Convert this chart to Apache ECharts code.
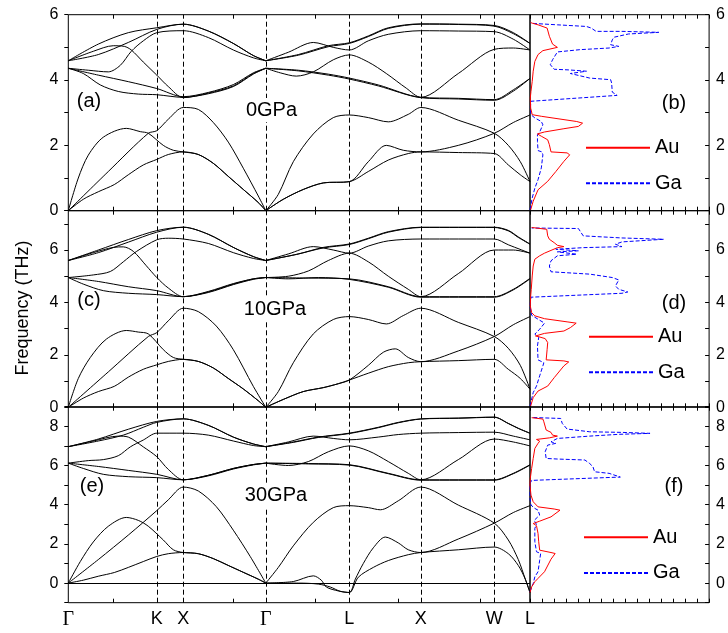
<!DOCTYPE html>
<html>
<head>
<meta charset="utf-8">
<script src="https://cdn.jsdelivr.net/npm/echarts/dist/echarts.min.js"></script>
<style>
  html, body { margin: 0; padding: 0; background: #fff; }
  #chart { width: 728px; height: 633px; }
</style>
</head>
<body>
<div id="chart"></div>
<script>
// high-symmetry points along the k path (path length units)
const kPoints = [0, 88.5, 115, 197.5, 281, 352.5, 426, 461.7]
const kLabels = ['Γ', 'K', 'X', 'Γ', 'L', 'X', 'W', 'L']
const kMinorTicks = [45, 165, 247, 330, 412]
const GAMMA = 197.5

const freqMin = [0, 0, -1]
const freqMax = [6, 7.5, 9]
const pressures = ['0GPa', '10GPa', '30GPa']

// 0 GPa phonon branches, [k, THz]
const bands0 = [
  [[0,0],[15,0.35],[30,0.58],[46,0.8],[60,1.1],[75,1.4],[88.5,1.57],[100,1.72],[115,1.8],[130,1.72],[145,1.45],[160,1.05],[175,0.65],[190,0.25],[197.5,0],[215,0.35],[235,0.65],[255,0.85],[281,0.89],[300,1.2],[320,1.55],[340,1.75],[352.5,1.8],[390,1.78],[426,1.75],[440,1.4],[452,1.1],[461.7,0.89]],
  [[0,0],[10,1.0],[20,1.7],[35,2.25],[58,2.52],[72,2.42],[80,2.37],[95,2.0],[105,1.85],[115,1.8],[130,1.72],[145,1.45],[160,1.05],[175,0.65],[190,0.25],[197.5,0],[215,0.35],[235,0.65],[255,0.85],[281,0.89],[300,1.5],[318,2.0],[335,1.85],[352.5,1.8],[390,2.0],[426,2.37],[445,2.7],[461.7,2.93]],
  [[0,0],[40,1.2],[80,2.37],[88.5,2.45],[100,2.8],[115,3.16],[130,3.1],[145,2.7],[160,2.1],[175,1.3],[190,0.45],[197.5,0],[210,0.5],[225,1.5],[245,2.35],[265,2.85],[281,2.93],[300,2.85],[320,2.72],[340,2.95],[352.5,3.16],[390,2.77],[426,2.37],[440,2.0],[452,1.5],[461.7,0.89]],
  [[0,4.59],[30,5.1],[60,5.45],[88.5,5.6],[115,5.71],[140,5.5],[165,5.12],[185,4.75],[197.5,4.59],[230,4.78],[260,5.05],[281,5.14],[300,5.35],[320,5.6],[352.5,5.72],[390,5.71],[426,5.67],[445,5.45],[461.7,5.12]],
  [[0,4.59],[30,4.78],[60,5.15],[88.5,5.55],[115,5.71],[140,5.5],[165,5.12],[185,4.75],[197.5,4.59],[220,4.85],[245,5.15],[265,5.0],[281,4.92],[300,5.2],[320,5.4],[352.5,5.51],[390,5.5],[426,5.48],[445,5.25],[461.7,4.92]],
  [[0,4.36],[20,4.3],[40,4.25],[52,4.45],[63,4.88],[75,5.2],[88.5,5.45],[115,5.51],[140,5.3],[165,4.92],[185,4.68],[197.5,4.59],[230,4.76],[260,5.02],[281,5.12],[300,5.33],[320,5.58],[352.5,5.71],[390,5.7],[426,5.65],[445,5.42],[461.7,5.12]],
  [[0,4.59],[25,4.88],[45,5.05],[56,5.03],[63,4.92],[75,4.55],[88.5,4.15],[100,3.8],[115,3.46],[140,3.6],[165,3.82],[185,4.2],[197.5,4.36],[212,4.22],[228,4.12],[245,4.25],[265,4.62],[281,4.77],[300,4.55],[318,4.2],[338,3.75],[352.5,3.47],[390,4.2],[426,4.94],[445,4.98],[461.7,4.92]],
  [[0,4.36],[30,4.15],[60,3.95],[88.5,3.74],[115,3.49],[140,3.62],[165,3.86],[185,4.22],[197.5,4.36],[230,4.3],[260,4.18],[281,4.06],[310,3.85],[352.5,3.47],[390,3.44],[426,3.4],[445,3.7],[461.7,4.05]],
  [[0,4.36],[15,4.2],[32,3.85],[50,3.65],[70,3.57],[88.5,3.55],[115,3.47],[140,3.58],[165,3.8],[185,4.18],[197.5,4.36],[230,4.28],[260,4.15],[281,4.03],[310,3.82],[352.5,3.46],[390,3.42],[426,3.38],[445,3.66],[461.7,4.05]]
]

// 10 GPa
const bands10 = [
  [[0,0],[15,0.35],[30,0.6],[46,0.8],[60,1.15],[75,1.45],[88.5,1.62],[100,1.75],[115,1.83],[130,1.75],[145,1.5],[160,1.1],[175,0.7],[190,0.25],[197.5,0],[215,0.3],[235,0.6],[255,0.75],[270,0.9],[281,1.04],[300,1.3],[320,1.55],[340,1.7],[352.5,1.74],[390,1.78],[426,1.83],[440,1.45],[452,1.1],[461.7,0.69]],
  [[0,0],[10,1.1],[22,1.9],[38,2.6],[58,2.93],[70,2.87],[80,2.8],[95,2.2],[105,1.9],[115,1.83],[130,1.75],[145,1.5],[160,1.1],[175,0.7],[190,0.25],[197.5,0],[215,0.3],[235,0.6],[255,0.75],[270,0.9],[281,1.04],[300,1.6],[315,2.1],[327,2.23],[340,1.9],[352.5,1.74],[390,2.15],[426,2.7],[445,3.15],[461.7,3.46]],
  [[0,0],[40,1.35],[80,2.7],[88.5,2.85],[100,3.3],[115,3.78],[130,3.65],[148,3.1],[165,2.2],[185,0.8],[197.5,0],[210,0.6],[225,1.7],[245,2.8],[265,3.35],[281,3.46],[300,3.35],[318,3.18],[335,3.5],[352.5,3.78],[390,3.24],[426,2.7],[440,2.25],[452,1.6],[461.7,0.69]],
  [[0,5.6],[30,6.0],[60,6.4],[88.5,6.74],[115,6.87],[140,6.6],[165,6.1],[185,5.75],[197.5,5.6],[230,5.85],[255,6.1],[281,6.23],[300,6.45],[320,6.7],[352.5,6.87],[390,6.87],[426,6.87],[440,6.75],[450,6.5],[461.7,6.23]],
  [[0,5.6],[30,5.9],[60,6.3],[88.5,6.68],[115,6.87],[140,6.6],[165,6.1],[185,5.75],[197.5,5.6],[228,5.83],[255,6.08],[281,6.21],[300,6.43],[320,6.68],[352.5,6.86],[390,6.86],[426,6.86],[440,6.73],[450,6.48],[461.7,6.22]],
  [[0,4.95],[25,5.05],[42,5.18],[55,5.55],[68,5.94],[88.5,6.39],[100,6.45],[115,6.42],[140,6.25],[165,5.9],[185,5.68],[197.5,5.6],[220,5.85],[245,6.13],[265,6.0],[281,5.88],[300,6.15],[320,6.35],[352.5,6.42],[390,6.42],[426,6.42],[440,6.2],[461.7,5.88]],
  [[0,5.6],[25,5.9],[45,6.1],[55,6.12],[65,5.95],[78,5.4],[88.5,4.95],[100,4.55],[115,4.22],[140,4.4],[165,4.7],[185,4.9],[197.5,4.95],[220,5.0],[240,5.2],[260,5.6],[281,5.88],[300,5.55],[320,5.0],[340,4.5],[352.5,4.22],[390,5.1],[426,6.0],[445,6.0],[461.7,5.88]],
  [[0,4.95],[30,4.8],[60,4.6],[88.5,4.45],[115,4.22],[140,4.42],[165,4.72],[185,4.9],[197.5,4.95],[240,4.93],[281,4.9],[320,4.6],[352.5,4.22],[390,4.22],[426,4.22],[445,4.5],[461.7,4.92]],
  [[0,4.95],[15,4.7],[35,4.45],[60,4.35],[88.5,4.3],[115,4.22],[140,4.38],[165,4.68],[185,4.88],[197.5,4.95],[220,4.9],[250,4.95],[281,4.88],[320,4.58],[352.5,4.2],[390,4.2],[426,4.2],[445,4.48],[461.7,4.9]]
]

// 30 GPa
const bands30 = [
  [[0,0],[15,0.15],[30,0.35],[46,0.54],[60,0.8],[75,1.1],[88.5,1.36],[100,1.5],[115,1.56],[130,1.5],[145,1.25],[160,0.9],[175,0.55],[190,0.2],[197.5,0],[230,0],[250,-0.05],[262,-0.2],[272,-0.42],[281,-0.48],[290,0.3],[305,0.8],[320,1.15],[340,1.45],[352.5,1.56],[390,1.7],[426,1.84],[440,1.5],[450,0.9],[457,0.2],[461.7,-0.48]],
  [[0,0],[12,1.1],[25,2.1],[40,2.9],[58,3.35],[70,3.2],[80,2.9],[95,2.2],[105,1.7],[115,1.56],[130,1.5],[145,1.25],[160,0.9],[175,0.55],[190,0.2],[197.5,0],[225,0.08],[245,0.37],[253,0.15],[258,-0.2],[270,-0.4],[281,-0.48],[287,0.2],[295,1.0],[305,1.8],[317,2.35],[330,2.05],[340,1.7],[352.5,1.56],[390,2.25],[426,3.06],[445,3.6],[461.7,3.95]],
  [[0,0],[30,1.2],[60,2.45],[88.5,3.7],[100,4.25],[115,4.9],[130,4.7],[148,3.9],[165,2.7],[182,1.35],[197.5,0],[210,0.8],[225,1.9],[245,3.1],[265,3.85],[281,3.95],[300,3.85],[312,3.74],[330,4.2],[352.5,4.9],[390,3.98],[426,3.06],[440,2.2],[450,1.2],[457,0.2],[461.7,-0.48]],
  [[0,6.96],[30,7.35],[60,7.85],[88.5,8.25],[115,8.38],[140,8.05],[165,7.45],[185,7.1],[197.5,6.96],[225,7.2],[250,7.45],[281,7.65],[310,7.95],[330,8.2],[352.5,8.38],[390,8.42],[426,8.47],[440,8.15],[450,7.9],[461.7,7.65]],
  [[0,6.96],[30,7.25],[55,7.55],[75,7.95],[88.5,8.2],[115,8.38],[140,8.05],[165,7.45],[185,7.1],[197.5,6.96],[220,7.2],[245,7.5],[265,7.38],[281,7.31],[310,7.45],[330,7.58],[352.5,7.65],[390,7.68],[426,7.7],[445,7.5],[461.7,7.31]],
  [[0,6.12],[20,6.25],[35,6.3],[50,6.5],[62,6.95],[75,7.3],[88.5,7.65],[115,7.65],[140,7.55],[165,7.25],[185,7.02],[197.5,6.96],[225,7.18],[250,7.43],[281,7.63],[310,7.93],[330,8.18],[352.5,8.37],[390,8.41],[426,8.46],[440,8.14],[450,7.89],[461.7,7.64]],
  [[0,6.96],[25,7.25],[50,7.5],[60,7.45],[75,6.95],[88.5,6.45],[100,5.8],[115,5.27],[140,5.5],[165,5.85],[185,6.05],[197.5,6.12],[220,6.0],[240,6.2],[260,6.7],[281,7.0],[300,6.75],[320,6.2],[340,5.6],[352.5,5.27],[390,6.3],[426,7.35],[445,7.2],[461.7,7.0]],
  [[0,6.12],[30,5.95],[60,5.75],[88.5,5.55],[115,5.27],[140,5.5],[165,5.85],[185,6.05],[197.5,6.12],[240,6.1],[281,6.04],[320,5.6],[352.5,5.27],[390,5.27],[426,5.27],[445,5.6],[461.7,6.04]],
  [[0,6.12],[15,5.85],[35,5.55],[60,5.43],[88.5,5.38],[115,5.27],[140,5.47],[165,5.82],[185,6.03],[197.5,6.12],[240,6.08],[281,6.02],[320,5.58],[352.5,5.25],[390,5.25],[426,5.25],[445,5.58],[461.7,6.02]]
]

// projected phonon DOS, [DOS (arb.), THz]
const dosAu0 = [[0.7,0.03],[3.3,0.29],[8.3,0.64],[18.3,0.9],[26.7,1.2],[35,1.51],[41,1.71],[38.3,1.77],[21.7,1.8],[20,2.02],[18.3,2.17],[11.7,2.28],[7.7,2.35],[15,2.41],[35,2.51],[50,2.58],[54.3,2.68],[48.3,2.73],[11.7,2.89],[2.3,2.94],[0.7,3.14],[0.3,3.45],[1,3.65],[2.3,3.96],[3.3,4.27],[5,4.57],[8.3,4.78],[13.3,4.9],[11.7,4.94],[28.3,5.0],[23.3,5.1],[20,5.34],[17.7,5.59],[16.7,5.64],[8.3,5.69],[2.3,5.74],[0.7,5.76]]
const dosGa0 = [[0,0.03],[2.3,0.39],[5,0.69],[8.3,0.95],[11.7,1.31],[13.3,1.71],[12.3,1.8],[8.3,1.84],[7.7,2.12],[7.7,2.33],[10,2.41],[13.3,2.63],[11.7,2.73],[5,2.84],[1,2.94],[0.3,3.14],[1,3.35],[90,3.53],[85,3.63],[84.3,3.91],[83.3,4.01],[61.7,4.06],[41.7,4.2],[58.3,4.27],[40,4.31],[25,4.33],[21,4.47],[23.3,4.62],[28.3,4.86],[51.7,4.93],[81.7,4.98],[91.7,5.03],[83.3,5.08],[85,5.23],[86.7,5.31],[101.7,5.41],[133,5.46],[95,5.49],[68.3,5.49],[63.3,5.59],[58.3,5.64],[28.3,5.69],[5,5.73],[0.7,5.74]]
const dosAu10 = [[0.7,0.05],[3.3,0.37],[8.3,0.62],[18.3,0.81],[25,1.13],[35,1.58],[40,1.73],[35,1.77],[16.7,1.81],[17.7,2.21],[18.3,2.47],[15.7,2.62],[8.3,2.7],[5.7,2.72],[15,2.82],[35,2.91],[41.7,3.04],[47.7,3.21],[38.3,3.26],[15,3.38],[5,3.49],[1.7,3.61],[0.3,3.87],[0.7,4.25],[1.3,4.5],[2.3,5.01],[3.3,5.39],[5,5.65],[10,5.78],[15,5.88],[28.3,6.09],[35,6.13],[28.3,6.18],[25,6.28],[20,6.41],[18.3,6.54],[17.3,6.79],[16.7,6.84],[1.7,6.86]]
const dosGa10 = [[0,0.05],[3.3,0.56],[6.7,0.81],[10,1.2],[13.3,1.58],[14.3,1.7],[8.3,1.81],[7.7,2.34],[9,2.66],[5,2.79],[10,2.98],[15,3.21],[8.3,3.36],[1.7,3.51],[0,3.87],[1,4.2],[95,4.35],[101,4.4],[91.7,4.5],[88.3,4.63],[91.7,4.86],[85,4.95],[61.7,5.08],[21.7,5.17],[20,5.39],[21.7,5.59],[28.3,5.78],[48.3,5.84],[28.3,5.93],[50,5.97],[26.7,6.03],[55,6.09],[95,6.13],[88.3,6.22],[95,6.31],[138,6.41],[95,6.46],[55,6.54],[50,6.82],[1.7,6.84]]
const dosAu30 = [[0,-0.48],[1.7,-0.19],[5,0.07],[8.3,0.24],[15,0.58],[21.7,1.22],[26,1.51],[21.7,1.56],[10,1.68],[9,2.11],[8.3,2.53],[6.7,2.93],[3.3,3.04],[10,3.16],[21.7,3.38],[31,3.72],[25,3.78],[8.3,3.89],[3.3,4.15],[1,4.49],[0,5.0],[0.3,5.34],[1.7,5.85],[3.3,6.36],[5,6.87],[8.3,7.13],[10,7.24],[6.7,7.33],[20,7.41],[28.3,7.5],[23.3,7.55],[21.7,7.69],[16.7,7.81],[14.3,8.23],[13.3,8.37],[1.7,8.44]]
const dosGa30 = [[0,-0.44],[3.3,-0.02],[5,0.32],[8.3,0.58],[10,1.17],[11,1.51],[6.7,1.6],[5,2.11],[5,2.79],[6.7,2.99],[4.3,3.2],[10,3.47],[8.3,3.72],[5,3.81],[1,3.98],[0,4.32],[0,5.08],[1.7,5.24],[93.3,5.41],[81.7,5.6],[66.7,5.68],[65,5.94],[61.7,6.1],[56.7,6.28],[28.3,6.33],[16.7,6.36],[15.7,6.7],[18.3,7.04],[26.7,7.13],[21.7,7.21],[28.3,7.38],[61.7,7.5],[91.7,7.59],[124,7.64],[95,7.69],[61.7,7.72],[38.3,7.86],[33.3,8.15],[31.7,8.4],[1.7,8.45]]

const panels = [
  { bands: bands0, au: dosAu0, ga: dosGa0 },
  { bands: bands10, au: dosAu10, ga: dosGa10 },
  { bands: bands30, au: dosAu30, ga: dosGa30 },
]

const FONT = 'Liberation Sans'
const rowBox = [
  { top: 14.7, height: 196 },
  { top: 210.7, height: 196.6 },
  { top: 406.7, height: 196 },
]

// break the line at the zone centre so the acoustic V stays sharp
function splitAtGamma(pts) {
  const out = []
  pts.forEach((p, i) => {
    out.push(p)
    if (p[0] === GAMMA && i > 0 && i < pts.length - 1) {
      out.push([GAMMA, '-'])
      out.push(p)
    }
  })
  return out
}

function bandX(gridIndex, position, showLabels) {
  return {
    type: 'value', gridIndex, position, min: 0, max: 461.7,
    axisLine: { show: false, onZero: false },
    splitLine: { show: false },
    axisTick: { inside: true, length: 4, customValues: kMinorTicks, lineStyle: { color: '#000' } },
    axisLabel: showLabels ? {
      show: true,
      customValues: kPoints,
      margin: 7,
      formatter: (v) => {
        const lab = kLabels[kPoints.indexOf(v)] || ''
        return lab === 'Γ' ? '{g|Γ}' : '{s|' + lab + '}'
      },
      rich: {
        g: { fontFamily: 'Liberation Serif', fontSize: 20, color: '#000' },
        s: { fontFamily: FONT, fontSize: 18, color: '#000' },
      },
    } : { show: false },
  }
}

function dosX(gridIndex, position) {
  return {
    type: 'value', gridIndex, position, min: 0, max: 185, interval: 185 / 15,
    axisLine: { show: false, onZero: false },
    splitLine: { show: false },
    axisTick: { inside: true, length: 4, lineStyle: { color: '#000' } },
    axisLabel: { show: false },
  }
}

function freqY(gridIndex, position, r) {
  return {
    type: 'value', gridIndex, position, min: freqMin[r], max: freqMax[r], interval: 1,
    axisLine: { show: false, onZero: false },
    splitLine: { show: false },
    axisTick: { inside: position === 'right', length: 4, lineStyle: { color: '#000' } },
    axisLabel: {
      margin: position === 'left' ? 10 : 7,
      fontSize: 16, fontFamily: FONT, color: '#000',
      formatter: (v) => (Math.abs(v % 2) < 1e-9 ? String(v) : ''),
    },
  }
}

const grid = [], xAxis = [], yAxis = [], series = []

rowBox.forEach((box, r) => {
  grid.push({ left: 68.3, top: box.top, width: 461.7, height: box.height, show: true, borderColor: '#000', borderWidth: 1 })
  grid.push({ left: 530, top: box.top, width: 185, height: box.height, show: true, borderColor: '#000', borderWidth: 1 })
  xAxis.push(bandX(2 * r, 'bottom', r === 2), bandX(2 * r, 'top', false), dosX(2 * r + 1, 'bottom'), dosX(2 * r + 1, 'top'))
  yAxis.push(freqY(2 * r, 'left', r), freqY(2 * r + 1, 'right', r))

  const guides = kPoints.slice(1, 7).map(k => ({ xAxis: k }))
  if (r === 2) guides.push({ yAxis: 0, lineStyle: { type: 'solid', color: '#000', width: 1 } })

  panels[r].bands.forEach((b, i) => {
    series.push({
      type: 'line',
      xAxisIndex: 4 * r, yAxisIndex: 2 * r,
      data: splitAtGamma(b),
      smooth: 0.3,
      symbol: 'none',
      silent: true,
      lineStyle: { color: '#000', width: 1 },
      z: 3,
      markLine: i === 0 ? {
        symbol: 'none', silent: true, label: { show: false },
        lineStyle: { color: '#000', type: [5, 3], width: 1 },
        data: guides,
      } : undefined,
    })
  })

  series.push({
    name: 'Ga', type: 'line',
    xAxisIndex: 4 * r + 2, yAxisIndex: 2 * r + 1,
    data: panels[r].ga,
    symbol: 'none', silent: true,
    itemStyle: { color: '#0000ff' },
    lineStyle: { color: '#0000ff', width: 1, type: [4, 2] },
    z: 3,
  })
  series.push({
    name: 'Au', type: 'line',
    xAxisIndex: 4 * r + 2, yAxisIndex: 2 * r + 1,
    data: panels[r].au,
    symbol: 'none', silent: true,
    itemStyle: { color: '#ff0000' },
    lineStyle: { color: '#ff0000', width: 1 },
    z: 4,
  })
})

const legendSpots = [[585, 137.7], [588, 326.7], [583, 527.3]]
const legend = legendSpots.map(([left, top]) => ({
  left, top, orient: 'vertical', padding: 0,
  itemWidth: 64, itemHeight: 20, itemGap: 15.6,
  selectedMode: false,
  data: ['Au', 'Ga'],
  itemStyle: { opacity: 0 },
  textStyle: { fontSize: 20, lineHeight: 20, fontFamily: FONT, color: '#000' },
}))

function label(text, x, y, opts) {
  return Object.assign({
    type: 'text', x, y, z: 100, silent: true,
    style: Object.assign({
      text, fill: '#000', font: '20px "Liberation Sans"',
      align: 'center', textAlign: 'center',
      verticalAlign: 'middle', textVerticalAlign: 'middle',
    }, (opts && opts.style) || {}),
  }, (opts && opts.el) || {})
}

const whiteBg = { style: { backgroundColor: '#fff', padding: [2, 2] } }

const graphic = [
  label('Frequency (THz)', 23, 308, { el: { rotation: Math.PI / 2 }, style: { font: '18px "Liberation Sans"' } }),
  label('(a)', 89, 101), label(pressures[0], 271.5, 110, whiteBg), label('(b)', 674, 103),
  label('(c)', 89, 300), label(pressures[1], 275, 309, whiteBg), label('(d)', 674, 303),
  label('(e)', 92, 486), label(pressures[2], 276, 495, whiteBg), label('(f)', 674, 486),
]

const chart = echarts.init(document.getElementById('chart'), null, { renderer: 'canvas' })
chart.setOption({
  animation: false,
  backgroundColor: '#fff',
  textStyle: { fontFamily: FONT },
  grid, xAxis, yAxis, series, legend, graphic,
})
</script>
</body>
</html>
